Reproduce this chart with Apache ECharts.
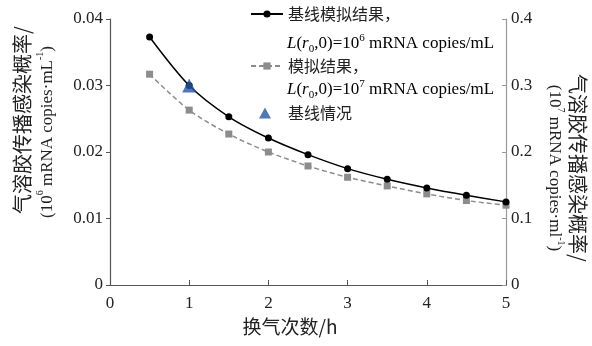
<!DOCTYPE html>
<html>
<head>
<meta charset="utf-8">
<script src="https://cdn.jsdelivr.net/npm/echarts@6/dist/echarts.min.js"></script>
<style>
html,body{margin:0;padding:0;background:#fff}
#main{width:592px;height:346px}
</style>
</head>
<body>
<div id="main"></div>
<script>
// 换气次数 (h)
var xData = [0.5, 1, 1.5, 2, 2.5, 3, 3.5, 4, 4.5, 5];
// 基线模拟结果, L(r0,0)=10^6 (左轴)
var baseVals = [0.0373, 0.0300, 0.0253, 0.0221, 0.0196, 0.0175, 0.0159, 0.0146, 0.0135, 0.0125];
// 模拟结果, L(r0,0)=10^7 (右轴)
var simVals = [0.317, 0.263, 0.227, 0.200, 0.179, 0.162, 0.149, 0.137, 0.127, 0.120];
// 基线情况
var baseCaseX = [1];
var baseCaseY = [0.030];

var serif = "'Liberation Serif','Noto Sans CJK SC',serif";
var cjk = "'Noto Sans CJK SC',sans-serif";

function pairs(xs, ys) {
	var out = [];
	for (var i = 0; i < xs.length; i++) out.push([xs[i], ys[i]]);
	return out;
}

function nameRich(lh) {
	return {
		cn: {fontFamily: cjk, fontSize: 20, color: '#222', lineHeight: lh},
		en: {fontFamily: serif, fontSize: 17, color: '#222', lineHeight: lh},
		sup: {fontFamily: serif, fontSize: 10, color: '#222', verticalAlign: 'top', lineHeight: lh},
		gap: {fontSize: 10, width: 24}
	};
}

var legRich = {
	i: {fontFamily: serif, fontStyle: 'italic', fontSize: 17, color: '#222', lineHeight: 22},
	n: {fontFamily: serif, fontSize: 17, color: '#222', lineHeight: 22},
	sub: {fontFamily: serif, fontSize: 11, color: '#222', verticalAlign: 'bottom', lineHeight: 22},
	sup: {fontFamily: serif, fontSize: 11, color: '#222', verticalAlign: 'top', lineHeight: 22}
};

var legText = {fontFamily: cjk, fontSize: 16, color: '#222'};

var myChart = echarts.init(document.getElementById('main'));
var option = {
	animation: false,
	backgroundColor: '#fff',
	grid: {left: 110, right: 86, top: 19, bottom: 61, containLabel: false, outerBoundsMode: 'none'},
	legend: [
		{data: ['基线模拟结果，'], left: 250, top: 6, padding: 0, itemWidth: 32, itemHeight: 9, textStyle: legText},
		{data: ['模拟结果，'], left: 250, top: 58, padding: 0, itemWidth: 32, itemHeight: 9, textStyle: legText},
		{data: ['基线情况'], left: 259, top: 105, padding: 0, itemWidth: 12, itemHeight: 11,
			textStyle: {fontFamily: cjk, fontSize: 16, color: '#222', padding: [0, 0, 0, 12]}}
	],
	graphic: [
		{type: 'text', left: 287, top: 33, style: {
			text: '{i|L}{n|(}{i|r}{sub|0}{n|,0)=10}{sup|6}{n| mRNA copies/mL}', rich: legRich}},
		{type: 'text', left: 287, top: 79, style: {
			text: '{i|L}{n|(}{i|r}{sub|0}{n|,0)=10}{sup|7}{n| mRNA copies/mL}', rich: legRich}}
	],
	xAxis: {
		type: 'value', min: 0, max: 5, interval: 1,
		name: '换气次数/h', nameLocation: 'middle', nameGap: 32,
		nameTextStyle: {fontFamily: cjk, fontSize: 19, color: '#222', padding: [0, 36, 0, 0]},
		axisLine: {lineStyle: {color: '#555', width: 1.2}},
		axisTick: {inside: true, length: 5, lineStyle: {color: '#555'}},
		axisLabel: {fontFamily: serif, fontSize: 17, color: '#222', margin: 10},
		splitLine: {show: false}
	},
	yAxis: [{
		type: 'value', min: 0, max: 0.04, interval: 0.01, position: 'left',
		name: '{cn|气溶胶传播感染概率/}\n{en|(10}{sup|6}{en| mRNA copies·mL}{sup|-1}{en|)}{gap| }',
		nameLocation: 'middle', nameRotate: 90, nameGap: 50,
		nameTextStyle: {rich: nameRich(25), padding: [0, 0, 0, 64]},
		axisLine: {show: true, lineStyle: {color: '#555', width: 1.2}},
		axisTick: {show: true, length: 4, lineStyle: {color: '#555'}},
		axisLabel: {fontFamily: serif, fontSize: 17, color: '#222', margin: 7},
		splitLine: {show: false}
	}, {
		type: 'value', min: 0, max: 0.4, interval: 0.1, position: 'right',
		name: '{cn|气溶胶传播感染概率/}\n{en|(10}{sup|7}{en| mRNA copies·ml}{sup|-1}{en|)}',
		nameLocation: 'middle', nameRotate: -90, nameGap: 37,
		nameTextStyle: {rich: nameRich(23), padding: [0, 0, 0, 32]},
		axisLine: {show: true, lineStyle: {color: '#999', width: 1.2}},
		axisTick: {show: true, inside: true, length: 4, lineStyle: {color: '#999'}},
		axisLabel: {fontFamily: serif, fontSize: 17, color: '#222', margin: 5},
		splitLine: {show: false}
	}],
	series: [{
		name: '基线模拟结果，',
		type: 'line',
		data: pairs(xData, baseVals),
		smooth: 0.3,
		symbol: 'circle', symbolSize: 7,
		itemStyle: {color: '#000'},
		lineStyle: {color: '#000', width: 1.5},
		z: 3
	}, {
		name: '模拟结果，',
		type: 'line',
		yAxisIndex: 1,
		data: pairs(xData, simVals),
		smooth: 0.3,
		symbol: 'rect', symbolSize: 7,
		itemStyle: {color: '#8c8c8c'},
		lineStyle: {color: '#8c8c8c', width: 1.5, type: [5, 3]},
		z: 2
	}, {
		name: '基线情况',
		type: 'scatter',
		data: pairs(baseCaseX, baseCaseY),
		symbol: 'triangle', symbolSize: 14,
		itemStyle: {color: '#2456a8'},
		z: 5
	}]
};
myChart.setOption(option);

window.addEventListener('resize', function() {
	myChart.resize();
});
</script>
</body>
</html>
